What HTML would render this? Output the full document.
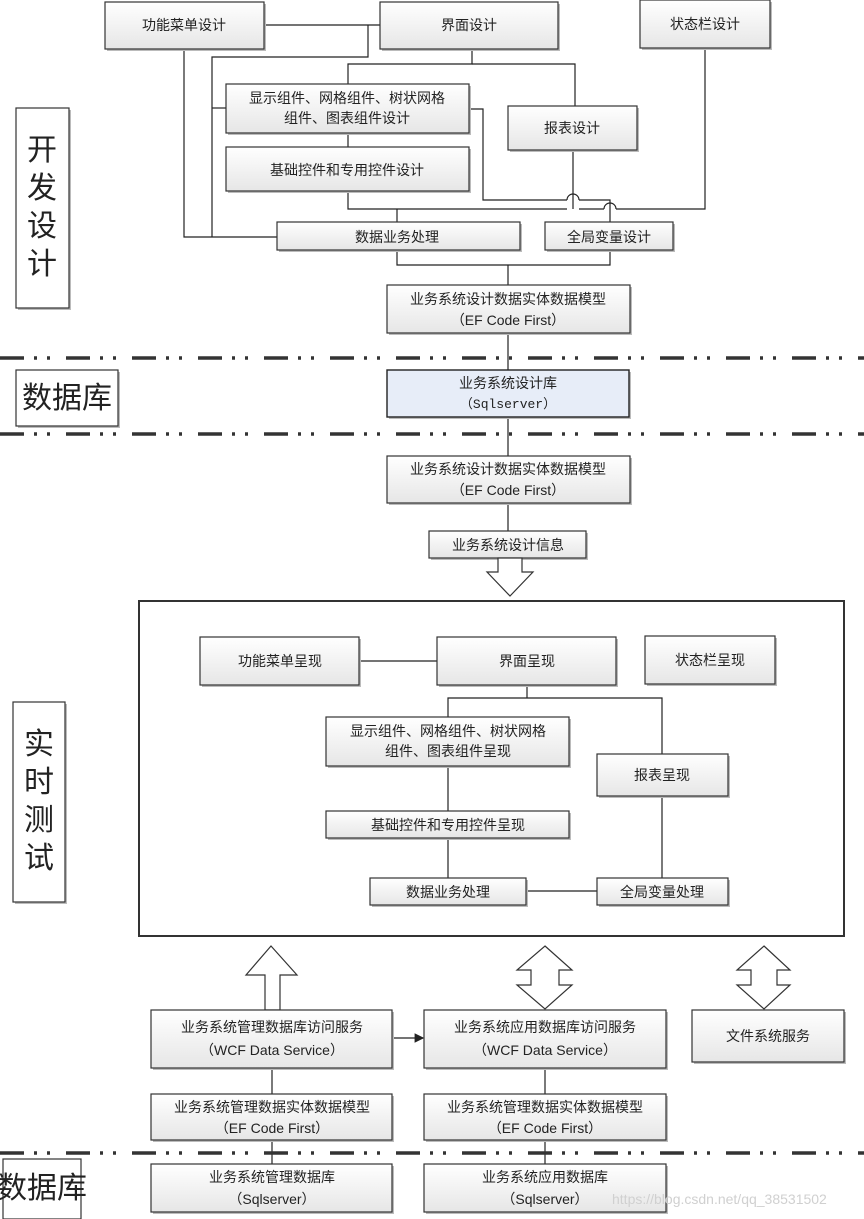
<!DOCTYPE html>
<html><head><meta charset="utf-8"><style>
html,body{margin:0;padding:0;background:#fff;}
svg{display:block;}
text{font-family:"Liberation Sans","Noto Sans CJK SC","WenQuanYi Zen Hei",sans-serif;fill:#222;}
</style></head><body>
<svg width="864" height="1219" viewBox="0 0 864 1219" xmlns="http://www.w3.org/2000/svg">
<defs>
<linearGradient id="g" x1="0" y1="0" x2="0" y2="1"><stop offset="0" stop-color="#ffffff"/><stop offset="1" stop-color="#e6e6e6"/></linearGradient>
<marker id="ar" markerWidth="8" markerHeight="8" refX="7" refY="4" orient="auto"><path d="M0,0 L8,4 L0,8 z" fill="#222"/></marker>
</defs>
<style>
.b{fill:url(#g);stroke:#333;stroke-width:1.2;}
.s{fill:#bbb;}
.l{stroke:#222;stroke-width:1.2;fill:none;}
.d{stroke:#333;stroke-width:3.5;stroke-dasharray:24 10 3 10 3 16;fill:none;}
.t{font-size:14px;text-anchor:middle;}
.big{font-size:30px;text-anchor:middle;}
.ar{fill:#fff;stroke:#333;stroke-width:1.2;}
</style>

<!-- connectors top -->
<g class="l">
<path d="M264,25 H380"/>
<path d="M368,25 V57 H212 V237"/>
<path d="M212,108 H226"/>
<path d="M184,49 V237 H277"/>
<path d="M472,49 V64 H348 V84"/>
<path d="M472,64 H575 V106"/>
<path d="M348,133 V147"/>
<path d="M348,191 V209 H567 M579,209 H604 M616,209 H705 V48"/>
<path d="M397,209 V222"/>
<path d="M469,109 H483 V200 H567 M579,200 H610 V222"/>
<path d="M567,200 a6,6 0 0 1 12,0"/>
<path d="M604,209 a6,6 0 0 1 12,0"/>
<path d="M573,150 V200 M573,200 V209"/>
<path d="M397,250 V265 H610 V250"/>
<path d="M508,265 V285"/>
<path d="M508,333 V370"/>
<path d="M508,417 V456"/>
<path d="M508,503 V531"/>
<!-- frame -->
<path d="M359,661 H437"/>
<path d="M527,685 V698 H448 V717 M527,698 H662 V754"/>
<path d="M448,766 V811"/>
<path d="M448,838 V878"/>
<path d="M526,891 H597"/>
<path d="M662,796 V878"/>
<!-- bottom -->
<path d="M272,1068 V1094"/>
<path d="M272,1140 V1164"/>
<path d="M545,1068 V1094"/>
<path d="M545,1140 V1164"/>
<path d="M392,1038 H423" marker-end="url(#ar)"/>
</g>

<!-- dashed separators -->
<path class="d" d="M0,358 H864"/>
<path class="d" d="M0,434 H864"/>
<path class="d" d="M0,1153 H864"/>

<!-- side labels -->
<g>
<rect class="s" x="18" y="110" width="53" height="200"/><rect x="16" y="108" width="53" height="200" fill="#fff" stroke="#333" stroke-width="1.2"/>
<text class="big" x="42" y="160">开</text><text class="big" x="42" y="198">发</text><text class="big" x="42" y="236">设</text><text class="big" x="42" y="274">计</text>
<rect class="s" x="18" y="372" width="102" height="56"/><rect x="16" y="370" width="102" height="56" fill="#fff" stroke="#333" stroke-width="1.2"/>
<text class="big" x="67" y="408">数据库</text>
<rect class="s" x="15" y="704" width="52" height="200"/><rect x="13" y="702" width="52" height="200" fill="#fff" stroke="#333" stroke-width="1.2"/>
<text class="big" x="39" y="754">实</text><text class="big" x="39" y="792">时</text><text class="big" x="39" y="830">测</text><text class="big" x="39" y="868">试</text>
<rect x="3" y="1159" width="78" height="60" fill="#fff" stroke="#333" stroke-width="1.2"/>
<text class="big" x="42" y="1198">数据库</text>
</g>

<!-- big frame -->
<rect x="139" y="601" width="705" height="335" fill="none" stroke="#333" stroke-width="2"/>

<!-- boxes -->
<g id="boxes">
<rect class="s" x="107" y="4" width="159" height="47"/><rect class="b" x="105" y="2" width="159" height="47"/><text class="t" x="184" y="30">功能菜单设计</text>
<rect class="s" x="382" y="4" width="178" height="47"/><rect class="b" x="380" y="2" width="178" height="47"/><text class="t" x="469" y="30">界面设计</text>
<rect class="s" x="642" y="2" width="130" height="48"/><rect class="b" x="640" y="0" width="130" height="48"/><text class="t" x="705" y="29">状态栏设计</text>
<rect class="s" x="228" y="86" width="243" height="49"/><rect class="b" x="226" y="84" width="243" height="49"/><text class="t" x="347" y="103">显示组件、网格组件、树状网格</text><text class="t" x="347" y="123">组件、图表组件设计</text>
<rect class="s" x="510" y="108" width="129" height="44"/><rect class="b" x="508" y="106" width="129" height="44"/><text class="t" x="572" y="133">报表设计</text>
<rect class="s" x="228" y="149" width="243" height="44"/><rect class="b" x="226" y="147" width="243" height="44"/><text class="t" x="347" y="175">基础控件和专用控件设计</text>
<rect class="s" x="279" y="224" width="243" height="28"/><rect class="b" x="277" y="222" width="243" height="28"/><text class="t" x="397" y="242">数据业务处理</text>
<rect class="s" x="547" y="224" width="128" height="28"/><rect class="b" x="545" y="222" width="128" height="28"/><text class="t" x="609" y="242">全局变量设计</text>
<rect class="s" x="389" y="287" width="243" height="48"/><rect class="b" x="387" y="285" width="243" height="48"/><text class="t" x="508" y="304">业务系统设计数据实体数据模型</text><text class="t" x="508" y="325">（EF Code First）</text>
<rect class="s" x="389" y="372" width="242" height="47"/><rect x="387" y="370" width="242" height="47" fill="#e7edf8" stroke="#222" stroke-width="1.4"/><text class="t" x="508" y="388">业务系统设计库</text><text class="t" x="508" y="408" style="font-family:'Liberation Mono',monospace;font-size:13px">（Sqlserver）</text>
<rect class="s" x="389" y="458" width="243" height="47"/><rect class="b" x="387" y="456" width="243" height="47"/><text class="t" x="508" y="474">业务系统设计数据实体数据模型</text><text class="t" x="508" y="495">（EF Code First）</text>
<rect class="s" x="431" y="533" width="157" height="27"/><rect class="b" x="429" y="531" width="157" height="27"/><text class="t" x="508" y="550">业务系统设计信息</text>
<path class="ar" d="M498,558 H522 V572 H533 L510,596 L487,572 H498 Z"/>

<rect class="s" x="202" y="639" width="159" height="48"/><rect class="b" x="200" y="637" width="159" height="48"/><text class="t" x="280" y="666">功能菜单呈现</text>
<rect class="s" x="439" y="639" width="179" height="48"/><rect class="b" x="437" y="637" width="179" height="48"/><text class="t" x="527" y="666">界面呈现</text>
<rect class="s" x="647" y="638" width="130" height="48"/><rect class="b" x="645" y="636" width="130" height="48"/><text class="t" x="710" y="665">状态栏呈现</text>
<rect class="s" x="328" y="719" width="243" height="49"/><rect class="b" x="326" y="717" width="243" height="49"/><text class="t" x="448" y="736">显示组件、网格组件、树状网格</text><text class="t" x="448" y="756">组件、图表组件呈现</text>
<rect class="s" x="599" y="756" width="131" height="42"/><rect class="b" x="597" y="754" width="131" height="42"/><text class="t" x="662" y="780">报表呈现</text>
<rect class="s" x="328" y="813" width="243" height="27"/><rect class="b" x="326" y="811" width="243" height="27"/><text class="t" x="448" y="830">基础控件和专用控件呈现</text>
<rect class="s" x="372" y="880" width="156" height="27"/><rect class="b" x="370" y="878" width="156" height="27"/><text class="t" x="448" y="897">数据业务处理</text>
<rect class="s" x="599" y="880" width="131" height="27"/><rect class="b" x="597" y="878" width="131" height="27"/><text class="t" x="662" y="897">全局变量处理</text>

<path class="ar" d="M265,1010 V975 H246 L271,946 L297,975 H280 V1010 Z"/>
<path class="ar" d="M545,946 L572,970 H559 V985 H572 L545,1009 L517,985 H531 V970 H517 Z"/>
<path class="ar" d="M764,946 L790,970 H777 V985 H790 L764,1009 L737,985 H751 V970 H737 Z"/>

<rect class="s" x="153" y="1012" width="241" height="58"/><rect class="b" x="151" y="1010" width="241" height="58"/><text class="t" x="272" y="1032">业务系统管理数据库访问服务</text><text class="t" x="272" y="1055">（WCF Data Service）</text>
<rect class="s" x="426" y="1012" width="242" height="58"/><rect class="b" x="424" y="1010" width="242" height="58"/><text class="t" x="545" y="1032">业务系统应用数据库访问服务</text><text class="t" x="545" y="1055">（WCF Data Service）</text>
<rect class="s" x="694" y="1012" width="152" height="52"/><rect class="b" x="692" y="1010" width="152" height="52"/><text class="t" x="768" y="1041">文件系统服务</text>
<rect class="s" x="153" y="1096" width="241" height="46"/><rect class="b" x="151" y="1094" width="241" height="46"/><text class="t" x="272" y="1112">业务系统管理数据实体数据模型</text><text class="t" x="272" y="1133">（EF Code First）</text>
<rect class="s" x="426" y="1096" width="242" height="46"/><rect class="b" x="424" y="1094" width="242" height="46"/><text class="t" x="545" y="1112">业务系统管理数据实体数据模型</text><text class="t" x="545" y="1133">（EF Code First）</text>
<rect class="s" x="153" y="1166" width="241" height="48"/><rect class="b" x="151" y="1164" width="241" height="48"/><text class="t" x="272" y="1182">业务系统管理数据库</text><text class="t" x="272" y="1204">（Sqlserver）</text>
<rect class="s" x="426" y="1166" width="242" height="48"/><rect class="b" x="424" y="1164" width="242" height="48"/><text class="t" x="545" y="1182">业务系统应用数据库</text><text class="t" x="545" y="1204">（Sqlserver）</text>
</g>
<text x="612" y="1204" style="font-size:14px;fill:#d0d0d0">https://blog.csdn.net/qq_38531502</text>
</svg>
</body></html>
